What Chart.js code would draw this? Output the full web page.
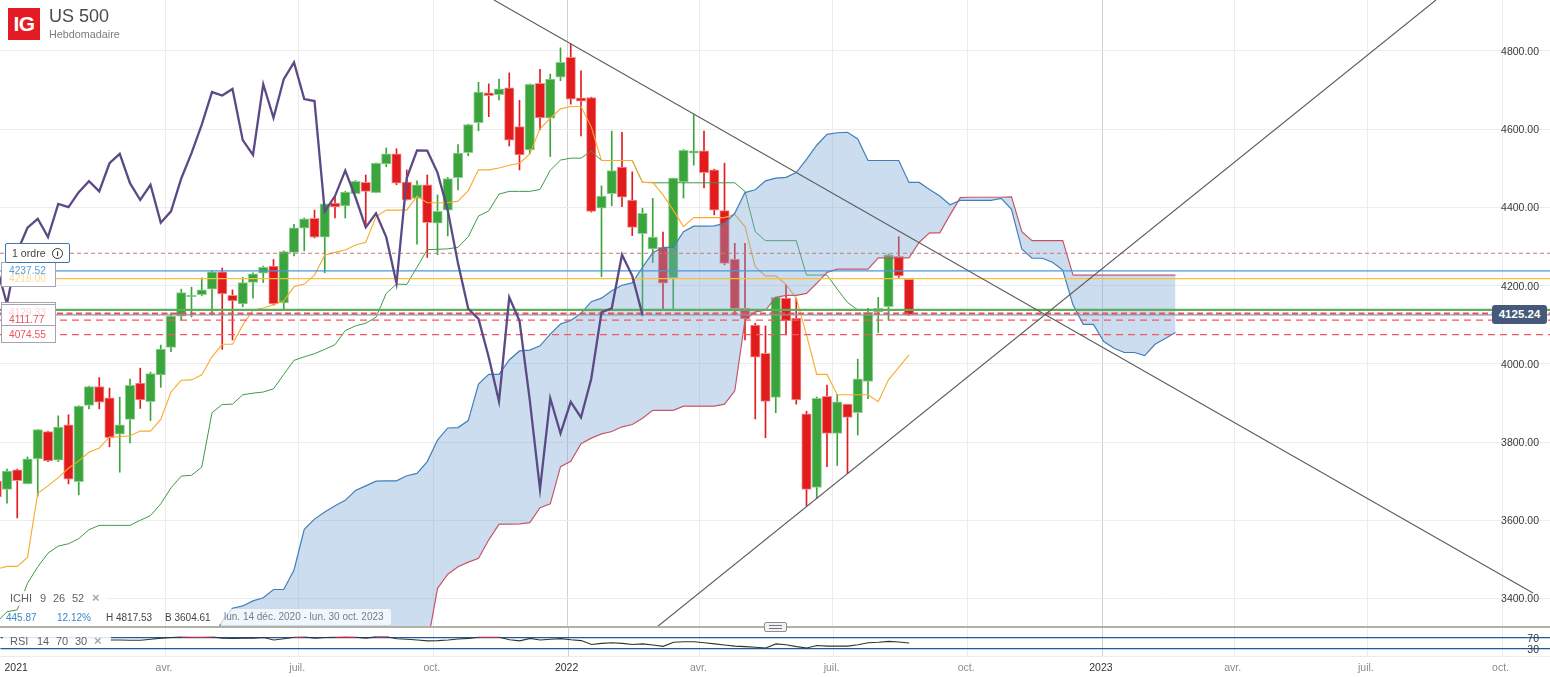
<!DOCTYPE html>
<html lang="fr">
<head>
<meta charset="utf-8">
<title>US 500</title>
<script src="https://cdn.jsdelivr.net/npm/chart.js@4"></script>
<style>
html,body{margin:0;padding:0;background:#fff;overflow:hidden;width:1550px;height:677px;font-family:"Liberation Sans",Arial,sans-serif}
canvas{position:absolute;left:0}
#main{top:0}
#rsi{top:627px}
.o{position:absolute;white-space:nowrap;box-sizing:border-box}
.t{position:absolute;white-space:nowrap;font-size:10px;line-height:13px}
.g{color:#5f5f66;font-size:11px}
.x{color:#a5a5ad;font-weight:bold;font-size:13px}
</style>
</head>
<body>
<canvas id="main" width="1550" height="627"></canvas>
<canvas id="rsi" width="1550" height="50"></canvas>

<div class="o" style="left:0;top:626px;width:1550px;height:2px;background:#b2b1a5"></div>
<div class="o" style="left:764px;top:622px;width:23px;height:10px;background:#f1f1f6;border:1px solid #8d8d9b;border-radius:2px"></div>
<div class="o" style="left:769px;top:625px;width:13px;height:1px;background:#777"></div>
<div class="o" style="left:769px;top:628px;width:13px;height:1px;background:#777"></div>

<div class="o" style="left:8px;top:8px;width:32px;height:32px;background:#e31b23;color:#fff;font:bold 21px/32px 'Liberation Sans';text-align:center;letter-spacing:-.5px">IG</div>
<div class="o" style="left:49px;top:6px;font-size:18px;line-height:21px;color:#4a4a50">US 500</div>
<div class="o" style="left:49px;top:27px;font-size:10.8px;line-height:14px;color:#7a7a82">Hebdomadaire</div>

<div class="o" style="left:1px;top:262px;width:55px;height:25px;background:#fff;border:1px solid #a6a4b4"></div>
<div class="t" style="left:9px;top:264px;font-size:10.2px;color:#5b9ad6">4237.52</div>
<div class="t" style="left:9px;top:272px;font-size:10.2px;color:#f9dc9c">4218.00</div>
<div class="o" style="left:5px;top:243px;width:65px;height:20px;background:#fff;border:1px solid #3f74a8;border-radius:2px;color:#444;font-size:10.6px;line-height:18px;padding-left:6px">1 ordre</div>
<div class="o" style="left:52px;top:248px;width:11px;height:11px;border:1.3px solid #333;border-radius:50%;font:bold 8px/9px 'Liberation Sans';text-align:center;color:#333">i</div>

<div class="o" style="left:1px;top:302px;width:55px;height:41px;background:#fff;border:1px solid #a6a4b4"></div>
<div class="o" style="left:1px;top:304px;width:55px;height:2px;border-top:1px solid #a6a4b4"></div>
<div class="o" style="left:1px;top:325px;width:55px;height:1px;background:#a6a4b4"></div>
<div class="t" style="left:9px;top:306px;font-size:10.2px;color:#f7d3d3">4129.33</div>
<div class="t" style="left:9px;top:313px;font-size:10.2px;color:#e4575d">4111.77</div>
<div class="t" style="left:9px;top:328px;font-size:10.2px;color:#e4575d">4074.55</div>

<div class="o" style="left:1492px;top:305px;width:55px;height:19px;background:#47597a;border-radius:3px;color:#fff;font:bold 11.5px/19px 'Liberation Sans';text-align:center">4125.24</div>

<div class="o" style="left:0;top:591px;width:108px;height:15px;background:rgba(255,255,255,.85)"></div>
<div class="t g" style="left:10px;top:592px">ICHI</div>
<div class="t g" style="left:40px;top:592px">9</div>
<div class="t g" style="left:53px;top:592px">26</div>
<div class="t g" style="left:72px;top:592px">52</div>
<div class="t x" style="left:92px;top:591px">×</div>
<div class="t" style="left:6px;top:611px;color:#3d85c6">445.87</div>
<div class="t" style="left:57px;top:611px;color:#3d85c6">12.12%</div>
<div class="t" style="left:106px;top:611px;color:#444">H 4817.53</div>
<div class="t" style="left:165px;top:611px;color:#444">B 3604.61</div>
<div class="o" style="left:220px;top:609px;width:171px;height:16px;background:rgba(255,255,255,.72);border-radius:2px;font-size:10px;line-height:16px;color:#6f7d90;padding-left:4px">lun. 14 déc. 2020 - lun. 30 oct. 2023</div>

<div class="o" style="left:3px;top:634px;width:108px;height:13px;background:rgba(255,255,255,.85)"></div>
<div class="t g" style="left:10px;top:635px">RSI</div>
<div class="t g" style="left:37px;top:635px">14</div>
<div class="t g" style="left:56px;top:635px">70</div>
<div class="t g" style="left:75px;top:635px">30</div>
<div class="t x" style="left:94px;top:634px">×</div>

<script>
// Weekly candles, first week shown is index -1 (Monday 7 Dec 2020), index 0 is 14 Dec 2020
const candleStart = -1;
const opens  = [3700,3679,3729,3693,3757,3827,3754,3844,3699,3894,3942,3913,3820,3858,3951,3903,3972,4042,4122,4172,4177,4191,4235,4175,4153,4208,4232,4250,4156,4285,4347,4372,4324,4411,4404,4435,4464,4438,4511,4537,4465,4423,4458,4360,4393,4476,4540,4617,4693,4688,4706,4607,4547,4717,4628,4733,4784,4680,4681,4398,4435,4503,4419,4333,4294,4298,4220,4465,4539,4545,4496,4392,4268,4142,4099,4027,3914,4168,4117,3872,3684,3917,3822,3897,3875,3955,4133,4146,4275,4216];
const highs  = [3708,3731,3731,3762,3832,3828,3867,3870,3893,3943,3965,3938,3915,3961,3989,3979,4048,4130,4191,4196,4220,4238,4245,4189,4221,4233,4250,4267,4289,4357,4373,4393,4409,4427,4441,4469,4483,4514,4552,4550,4496,4468,4483,4432,4477,4561,4613,4720,4716,4728,4744,4674,4716,4753,4741,4808,4818,4749,4682,4455,4595,4592,4491,4398,4423,4337,4475,4548,4638,4595,4498,4513,4308,4308,4104,4097,4171,4203,4168,3879,3915,3946,3922,3897,4012,4142,4170,4281,4325,4217];
const lows   = [3652,3644,3606,3693,3662,3750,3750,3693,3665,3885,3885,3788,3723,3798,3886,3855,3940,4031,4112,4120,4174,4125,4037,4061,4146,4168,4208,4150,4139,4276,4289,4322,4233,4373,4373,4435,4354,4437,4504,4458,4419,4306,4272,4279,4327,4445,4532,4596,4632,4675,4557,4496,4537,4598,4530,4724,4664,4583,4388,4223,4404,4402,4328,4122,4259,4139,4139,4424,4508,4450,4381,4253,4125,4061,3859,3811,3875,4074,3897,3637,3656,3737,3740,3720,3818,3911,4080,4112,4221,4124];
const closes = [3660,3726,3701,3757,3832,3752,3838,3705,3892,3942,3902,3811,3844,3945,3908,3975,4038,4122,4182,4175,4189,4235,4179,4161,4208,4230,4247,4153,4287,4348,4371,4324,4409,4401,4439,4467,4441,4513,4537,4462,4419,4458,4361,4390,4474,4539,4612,4695,4686,4703,4572,4534,4715,4629,4728,4771,4677,4672,4390,4429,4494,4426,4349,4385,4324,4206,4475,4546,4545,4489,4393,4257,4141,4115,4017,3904,4170,4110,3908,3679,3912,3822,3903,3863,3962,4132,4142,4279,4225,4125.24];

// Ichimoku lines
const tenkan = [3475,3482,3482,3505,3669,3688,3709,3733,3752,3774,3785,3813,3814,3816,3828,3828,3858,3928,3958,3959,3972,4018,4050,4050,4099,4138,4143,4151,4161,4197,4204,4227,4278,4285,4291,4304,4311,4376,4393,4393,4393,4429,4412,4412,4412,4416,4443,4496,4496,4501,4508,4513,4537,4601,4628,4652,4658,4658,4606,4520,4520,4520,4520,4464,4464,4432,4393,4351,4374,4374,4374,4374,4382,4351,4248,4225,4225,4203,4168,4074,3973,3973,3921,3921,3921,3921,3903,3959,3991,4023];
const kijun  = [3340,3366,3371,3439,3481,3516,3534,3540,3553,3576,3587,3587,3587,3587,3600,3612,3642,3683,3713,3715,3736,3875,3896,3897,3921,3925,3928,3936,3973,4009,4018,4026,4037,4049,4085,4097,4104,4119,4180,4204,4203,4247,4292,4293,4294,4298,4325,4378,4391,4434,4441,4441,4441,4446,4495,4521,4526,4526,4544,4520,4520,4520,4520,4464,4463,4463,4463,4463,4463,4463,4463,4463,4463,4441,4338,4315,4315,4315,4315,4227,4227,4227,4191,4157,4138,4138,4138,4138,4138,4138];
const lagging = [4247,4153,4287,4348,4371,4324,4409,4401,4439,4467,4441,4513,4537,4462,4419,4458,4361,4390,4474,4539,4612,4695,4686,4703,4572,4534,4715,4629,4728,4771,4677,4672,4390,4429,4494,4426,4349,4385,4324,4206,4475,4546,4545,4489,4393,4257,4141,4115,4017,3904,4170,4110,3908,3679,3912,3822,3903,3863,3962,4132,4142,4279,4225,4125.24];

// Cloud, starts at week index 20 and runs 26 weeks past the last candle
const cloudStart = 20;
const cloudBlue = [3294,3342,3375,3381,3394,3402,3423,3423,3473,3577,3603,3621,3637,3651,3676,3688,3700,3701,3701,3714,3720,3750,3805,3836,3837,3855,3948,3973,3973,4010,4033,4035,4046,4076,4102,4111,4129,4159,4168,4187,4201,4207,4247,4284,4298,4298,4338,4352,4352,4353,4359,4385,4438,4445,4468,4475,4477,4489,4523,4559,4587,4591,4592,4575,4520,4520,4520,4520,4464,4464,4446,4429,4407,4418,4418,4418,4418,4423,4395,4294,4270,4270,4260,4240,4151,4101,4101,4057,4040,4029,4029,4021,4050,4065,4080];
const cloudRed  = [3050,3050,3050,3050,3050,3050,3050,3050,3050,3050,3060,3070,3080,3090,3100,3120,3140,3160,3180,3200,3230,3281,3426,3462,3481,3493,3503,3550,3590,3590,3591,3594,3632,3642,3737,3751,3796,3810,3821,3827,3839,3845,3861,3881,3881,3881,3892,3892,3892,3892,3897,3931,4112,4133,4137,4170,4175,4175,4180,4206,4234,4242,4242,4242,4242,4271,4271,4271,4271,4311,4335,4335,4381,4425,4426,4426,4426,4426,4427,4338,4315,4315,4315,4315,4227,4227,4227,4227,4227,4227,4227,4227,4227,4227,4227];

// RSI, starts at week index 10
const rsiStart = 10;
const rsiValues = [60,60,59,59,63,67,69,71,70,70,71,67,66,67,67,69,60,65,70,71,67,69,70,71,70,67,72,72,65,63,60,57,58,60,64,66,70,70,70,61,57,66,60,63,65,61,58,44,48,50,48,44,46,42,37,52,54,54,50,46,42,38,36,34,31,46,43,36,31,40,38,38,38,43,50,52,55,53,49];
const rsiBands = [70,30];

// Horizontal levels
const levelOrder = 4282.7, levelBlue = 4237.52, levelOrange = 4218, levelGreen = 4138, levelRedA = 4129, levelLast = 4125.24, levelRedB = 4111.77, levelRedC = 4074.55;

// Trend lines as [week index, price]
const trendDown = [[47.51,4930.4],[148.88,3414]];
const trendUp   = [[63.41,3327.1],[139.41,4930.4]];

// Axes
const priceTicks = [3400,3600,3800,4000,4200,4400,4600,4800];
const tickLabels = ['2021','avr.','juil.','oct.','2022','avr.','juil.','oct.','2023','avr.','juil.','oct.'];
const tickDates  = ['2020-12-21','2021-04-01','2021-07-01','2021-10-01','2022-01-01','2022-04-01','2022-07-01','2022-10-01','2023-01-01','2023-04-01','2023-07-01','2023-10-01'];
const xFirstVisible = -0.683, xLastVisible = 150.537;
const priceMin = 3327.1, priceMax = 4930.4;
const rsiMin = 2, rsiMax = 107.45;

const week0 = Date.UTC(2020,11,14);
const tickWeeks = tickDates.map(d => (Date.parse(d+'T00:00:00Z') - week0) / (7*864e5));
const FONT = {family:'"Liberation Sans", Arial, sans-serif', size:10.5};
const GREEN='#3aa53c', GREEN_L='#93cf94', RED='#e21b1d', RED_L='#f1908f';
const series = (arr,start) => arr.map((y,i)=>({x:start+i,y}));
const isUp = i => closes[i]>=opens[i];
const level = y => [{x:xFirstVisible,y},{x:xLastVisible,y}];
const gridCol = ctx => {
  const l = tickLabels[ctx.index];
  if (ctx.index===0) return 'rgba(0,0,0,0)';
  return (l==='2022'||l==='2023') ? '#d0d0d0' : '#ececec';
};
const xScale = (showLabels) => ({
  type:'linear', min:xFirstVisible, max:xLastVisible, offset:false,
  afterBuildTicks:s=>{s.ticks=tickWeeks.map(value=>({value}));},
  afterFit:s=>{s.height=showLabels?21:0;},
  grid:{color:gridCol,lineWidth:1,drawTicks:false,offset:false},
  border:{display:showLabels,color:'#ececec'},
  ticks:{display:showLabels,autoSkip:false,maxRotation:0,minRotation:0,padding:6,labelOffset:-1.5,font:FONT,
    color:ctx=>{const l=tickLabels[ctx.index];return /^\d/.test(l)?'#333':'#8c8c8c';},
    callback:(v,i)=>tickLabels[i]}
});
const lineDs = (label,data,color,width,order,extra) => Object.assign({type:'line',label,data,borderColor:color,borderWidth:width,pointRadius:0,tension:0,fill:false,order},extra||{});

new Chart(document.getElementById('main'),{
  data:{datasets:[
    {type:'bar',label:'wicks',order:20,grouped:false,barThickness:1,borderWidth:0,borderSkipped:false,
      data:lows.map((l,i)=>({x:candleStart+i,y:[l,highs[i]]})),
      backgroundColor:lows.map((_,i)=>isUp(i)?GREEN:RED)},
    {type:'bar',label:'candles',order:19,grouped:false,barThickness:9.5,borderWidth:1,borderSkipped:false,
      data:opens.map((o,i)=>({x:candleStart+i,y:[o,closes[i]]})),
      backgroundColor:opens.map((_,i)=>isUp(i)?GREEN:RED),
      borderColor:opens.map((_,i)=>isUp(i)?GREEN_L:RED_L)},
    lineDs('kijun',series(kijun,candleStart),'#3f9a44',1,18),
    lineDs('tenkan',series(tenkan,candleStart),'#f7ac2b',1.1,17),
    lineDs('cloudRed',series(cloudRed,cloudStart),'#d9434f',1.2,15),
    lineDs('cloudBlue',series(cloudBlue,cloudStart),'#3f80ba',1.2,14,{fill:{target:4,above:'rgba(123,167,213,0.39)',below:'rgba(123,167,213,0.39)'}}),
    lineDs('order',level(levelOrder),'#c77a80',1,8,{borderDash:[4,3]}),
    lineDs('blue',level(levelBlue),'#4c96dc',1.2,7),
    lineDs('orange',level(levelOrange),'#f9bd3f',1.2,7),
    lineDs('green',level(levelGreen),'#5cae5f',2.2,6),
    lineDs('last',level(levelLast),'#8d9ab0',1.2,5.5),
    lineDs('redA',level(levelRedA),'#ef4f58',2,5,{borderDash:[6,3.5]}),
    lineDs('redB',level(levelRedB),'#ef5a62',1.2,5,{borderDash:[7,5]}),
    lineDs('redC',level(levelRedC),'#ef5a62',1.2,5,{borderDash:[7,5]}),
    lineDs('trendDown',trendDown.map(p=>({x:p[0],y:p[1]})),'#5c5c5c',1.1,3),
    lineDs('trendUp',trendUp.map(p=>({x:p[0],y:p[1]})),'#5c5c5c',1.1,3),
    lineDs('lagging',series(lagging,candleStart),'#5b4a85',2.3,2)
  ]},
  options:{
    responsive:false,animation:false,events:[],
    layout:{padding:0,autoPadding:false},
    plugins:{legend:{display:false},tooltip:{enabled:false},title:{display:false}},
    scales:{
      x:xScale(false),
      y:{type:'linear',position:'right',min:priceMin,max:priceMax,beginAtZero:false,
        afterFit:s=>{s.width=0;},
        afterBuildTicks:s=>{s.ticks=priceTicks.map(value=>({value}));},
        grid:{color:'#ececec',drawTicks:false},border:{display:false},
        ticks:{mirror:true,padding:-11,labelOffset:1,font:FONT,color:'#3a3a3a',callback:v=>v.toFixed(2)}}
    }
  }
});

new Chart(document.getElementById('rsi'),{
  data:{datasets:[
    lineDs('rsi',series(rsiValues,rsiStart),'#333',1.1,1,{segment:{borderColor:c=>(c.p0.parsed.y>=70&&c.p1.parsed.y>=70)?'#e0252b':'#333'}})
  ]},
  options:{
    responsive:false,animation:false,events:[],
    layout:{padding:0,autoPadding:false},
    plugins:{legend:{display:false},tooltip:{enabled:false},title:{display:false}},
    scales:{
      x:xScale(true),
      y:{type:'linear',position:'right',min:rsiMin,max:rsiMax,beginAtZero:false,
        afterFit:s=>{s.width=0;},
        afterBuildTicks:s=>{s.ticks=rsiBands.map(value=>({value}));},
        grid:{color:'#1f5c99',lineWidth:1.2,drawTicks:false},border:{display:false},
        ticks:{mirror:true,padding:-11,labelOffset:1.5,font:FONT,color:'#3a3a3a'}}
    }
  }
});
</script>
</body>
</html>
